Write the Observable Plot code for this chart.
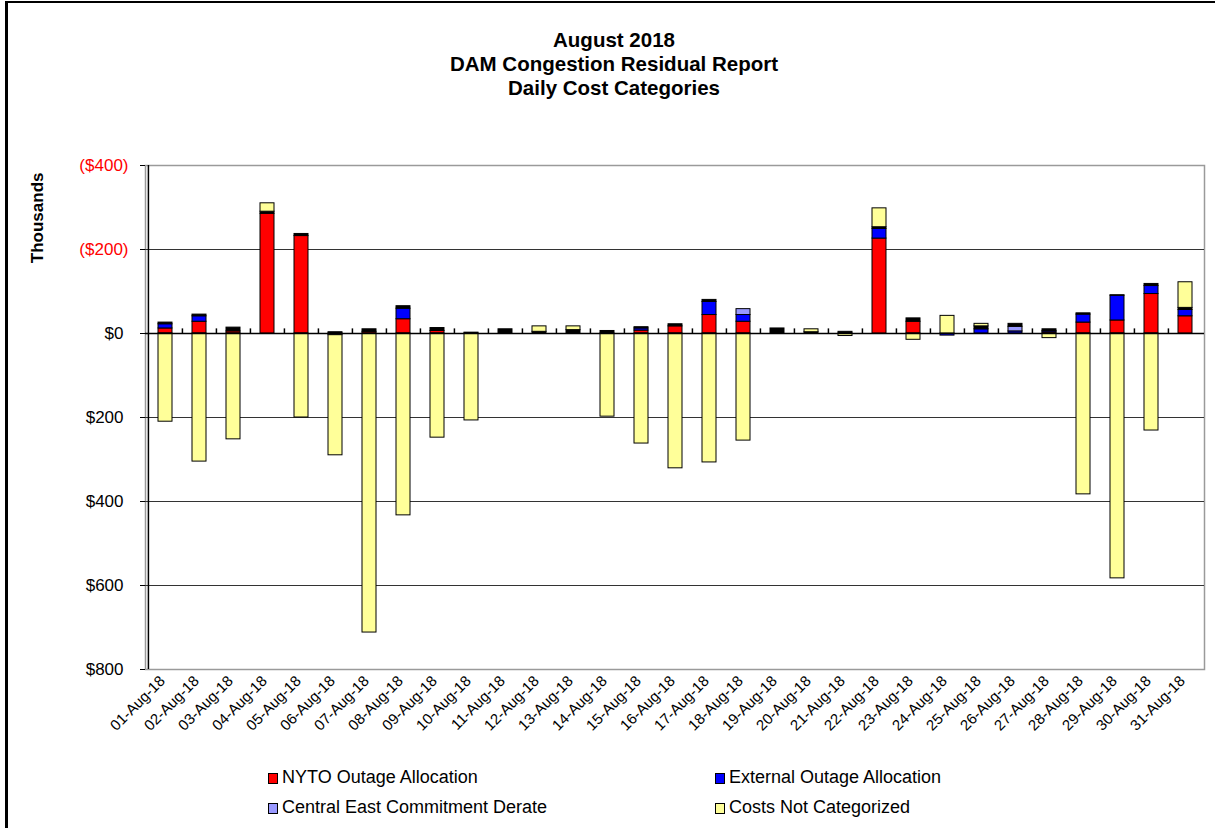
<!DOCTYPE html>
<html><head><meta charset="utf-8">
<script src="https://cdn.jsdelivr.net/npm/d3@7"></script>
<script src="https://cdn.jsdelivr.net/npm/@observablehq/plot@0.6"></script>
<style>
body{margin:0;background:#fff;font-family:"Liberation Sans",Arial,sans-serif;}
#wrap{position:relative;width:1215px;height:828px;overflow:hidden;background:#fff;}
#frame{position:absolute;left:5px;top:1px;width:1300px;height:900px;border-left:3px solid #000;border-top:2px solid #000;}
#title{position:absolute;left:0;top:28px;width:1228px;text-align:center;font-weight:bold;font-size:20.5px;line-height:24px;color:#000;}
#chart{position:absolute;left:0;top:100px;}
.leg{position:absolute;font-size:18px;line-height:20px;color:#000;white-space:nowrap;}
.sw{display:inline-block;width:8px;height:9px;border:1px solid #000;margin-right:4px;vertical-align:-1px;}
</style>
</head><body>
<div id="wrap">
<div id="frame"></div>
<div id="title">August 2018<br>DAM Congestion Residual Report<br>Daily Cost Categories</div>
<div id="chart"></div>
<div id="legend"></div>
</div>
<script>
const dates = ["01-Aug-18","02-Aug-18","03-Aug-18","04-Aug-18","05-Aug-18","06-Aug-18","07-Aug-18","08-Aug-18","09-Aug-18","10-Aug-18","11-Aug-18","12-Aug-18","13-Aug-18","14-Aug-18","15-Aug-18","16-Aug-18","17-Aug-18","18-Aug-18","19-Aug-18","20-Aug-18","21-Aug-18","22-Aug-18","23-Aug-18","24-Aug-18","25-Aug-18","26-Aug-18","27-Aug-18","28-Aug-18","29-Aug-18","30-Aug-18","31-Aug-18"];

// values in $ thousands (negative = shown above zero, in parentheses)
const nytoOutage      = [-12,-28,-5,-285,-232,0,-4,-34,-6,0,0,0,0,0,-7,-17,-44,-28,0,0,0,-226,-28,0,0,0,-3,-26,-31,-94,-41];
const externalOutage  = [-10,-13,0,0,0,4,0,-25,0,0,0,0,0,0,-5,0,-31,-16,0,0,0,-23,0,5,-10,-5,-3,-19,-59,-19,-15];
const centralEastDerate = [0,0,0,0,0,0,0,0,0,0,0,0,0,0,0,0,0,-14,0,0,0,0,0,0,0,-11,0,0,0,0,0];
const otherUnlisted   = [-4,-4,-9,-5,-5,-3,-6,-6,-7,-2,-10,-4,-8,-6,-3,-5,-5,0,-12,-3,-4,-4,-8,0,-7,-7,-4,-3,-1,-5,-5];
const notCategorized  = [210,305,252,-20,200,286,712,433,248,207,0,-13,-9,198,262,321,307,255,0,-7,6,-45,15,-42,-6,0,11,383,583,231,-61];

const seriesNames = ["NYTO Outage Allocation","External Outage Allocation","Central East Commitment Derate","Other","Costs Not Categorized"];
const seriesColors = ["#FF0000","#0000FF","#9999FF","#000000","#FFFF99"];
const seriesValues = [nytoOutage, externalOutage, centralEastDerate, otherUnlisted, notCategorized];
const legendNames = ["NYTO Outage Allocation","External Outage Allocation","Central East Commitment Derate","Costs Not Categorized"];
const negTicks = [-400,-200];
const posTicks = [0,200,400,600,800];
const gridTicks = [-200,200,400,600];

const rows = [];
dates.forEach((d,i)=>seriesNames.forEach((s,k)=>{ if (seriesValues[k][i] !== 0) rows.push({date:d, series:s, value:seriesValues[k][i]}); }));

const W=1215, H=645, ML=145, MR=11, MT=65, MB=76;
const step = (W-ML-MR)/dates.length;
const fmt = d => d < 0 ? `($${-d})` : `$${d}`;
const font = "Liberation Sans, Arial, sans-serif";

const chart = Plot.plot({
  width:W, height:H, marginLeft:ML, marginRight:MR, marginTop:MT, marginBottom:MB,
  style:{fontFamily:font, background:"transparent", color:"#000"},
  x:{domain:dates, paddingInner:0.59, paddingOuter:0.295, axis:null, label:null},
  y:{domain:[-400,800], reverse:true, axis:null, label:null},
  color:{domain:seriesNames, range:seriesColors},
  marks:[
    Plot.frame({stroke:"#9a9a9a", strokeWidth:1.5}),
    Plot.ruleY(gridTicks, {stroke:"#333", strokeWidth:1.2}),
    Plot.barY(rows, Plot.stackY({x:"date", y:"value", z:"series", fill:"series", stroke:"#000", strokeWidth:1, order:seriesNames})),
    Plot.ruleY([0], {stroke:"#000", strokeWidth:1.5}),
    Plot.ruleX(dates.slice(1), {x:d=>d, dx:-step/2, y1:0, y2:-11, stroke:"#000", strokeWidth:1.5}),
    Plot.ruleX([dates[0]], {x:d=>d, dx:-step/2, y1:-400, y2:800, stroke:"#000", strokeWidth:1.5}),
    Plot.axisY([...negTicks, ...posTicks], {tickSize:5, tickFormat:()=>"", stroke:"#000", label:null}),
    Plot.axisY(negTicks, {tickSize:0, tickPadding:17, tickFormat:fmt, fill:"#FF0000", fontSize:17, label:null}),
    Plot.axisY(posTicks, {tickSize:0, tickPadding:22, tickFormat:fmt, fill:"#000", fontSize:17, label:null}),
    Plot.axisX({tickSize:0, tickPadding:9, tickRotate:-45, fontSize:15, fill:"#000", dx:-3, label:null}),
    Plot.text(["Thousands"], {frameAnchor:"top-left", rotate:-90, textAnchor:"end", dx:-115, dy:7, fontSize:17, fontWeight:"bold", fill:"#000"})
  ]
});
document.getElementById("chart").appendChild(chart);

const legend = document.getElementById("legend");
const pos = [[268,767],[715,767],[268,797],[715,797]];
legendNames.forEach((n,i)=>{
  const el = document.createElement("div");
  el.className = "leg";
  el.style.left = pos[i][0]+"px"; el.style.top = pos[i][1]+"px";
  const sw = document.createElement("span");
  sw.className = "sw"; sw.style.background = seriesColors[seriesNames.indexOf(n)];
  el.appendChild(sw);
  el.appendChild(document.createTextNode(n));
  legend.appendChild(el);
});
</script>
</body></html>
